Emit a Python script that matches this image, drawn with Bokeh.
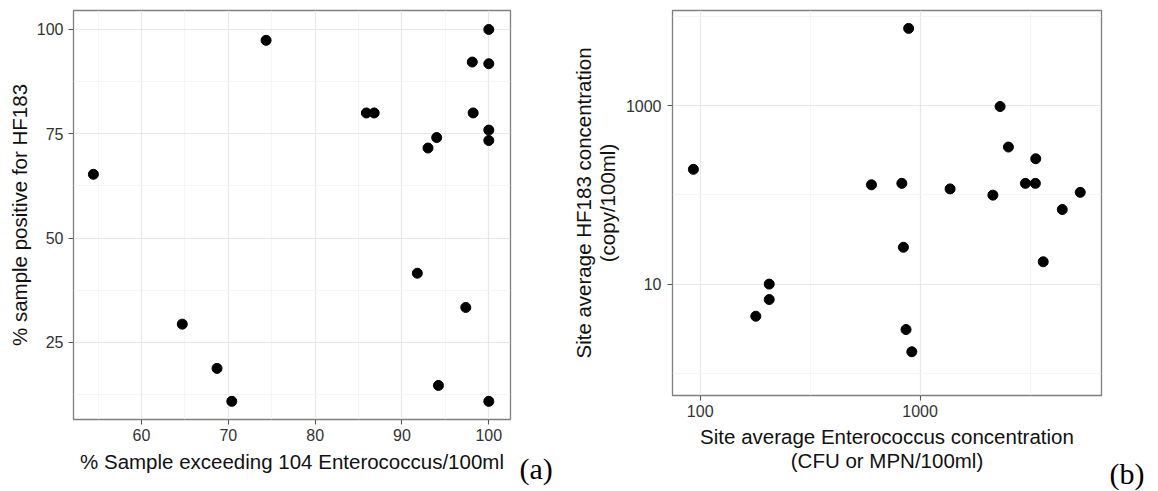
from bokeh.plotting import figure
from bokeh.models import Range1d, FixedTicker, Label, PrintfTickFormatter
from bokeh.embed import file_html
from bokeh.resources import INLINE

# ---- panel (a) data ----
pct_exceed = [74.35, 100, 98.1, 100, 85.9, 86.8, 98.2, 100, 100, 94.0, 93.0,
              54.46, 91.77, 97.35, 64.7, 68.7, 70.4, 94.2, 100]
pct_pos_hf183 = [97.4, 100, 92.2, 91.8, 80.0, 80.0, 80.0, 75.9, 73.4, 74.1, 71.6,
                 65.3, 41.6, 33.4, 29.4, 18.8, 10.9, 14.7, 10.9]
a_xticks = [60, 70, 80, 90, 100]
a_xminor = [55, 65, 75, 85, 95]
a_yticks = [25, 50, 75, 100]
a_yminor = [12.5, 37.5, 62.5, 87.5]

# ---- panel (b) data ----
avg_entero = [887, 2311, 2522, 3357, 93.1, 601, 826, 1369, 2143, 3013, 3344,
              5350, 4432, 840, 3631, 206, 206, 179, 863, 917]
avg_hf183 = [7400, 983, 345, 255, 194, 130, 135, 117, 99.6, 135, 135,
             107, 68.7, 25.9, 17.8, 10, 6.71, 4.36, 3.09, 1.74]
b_xticks = [100, 1000]
b_xminor = [31.62, 316.2, 3162]
b_yticks = [10, 1000]
b_yminor = [1, 100, 10000]

panel_tags = ["(a)", "(b)"]

FONT = "Liberation Sans"
TICK_COLOR = "#333333"
TITLE_COLOR = "#111111"


def style(p):
    p.outline_line_color = "#7f7f7f"
    p.outline_line_width = 1.3
    p.background_fill_color = "white"
    p.border_fill_color = "white"
    for ax in (p.xaxis, p.yaxis):
        ax.axis_line_color = None
        ax.major_tick_line_color = "#555555"
        ax.major_tick_line_width = 1.1
        ax.major_tick_out = 5
        ax.major_tick_in = 0
        ax.minor_tick_line_color = None
        ax.major_label_text_font = FONT
        ax.major_label_text_font_size = "16px"
        ax.major_label_text_color = TICK_COLOR
        ax.axis_label_text_font = FONT
        ax.axis_label_text_font_size = "20.5px"
        ax.axis_label_text_font_style = "normal"
        ax.axis_label_text_color = TITLE_COLOR
    p.xaxis.major_label_standoff = 4
    p.yaxis.major_label_standoff = 5
    for g in (p.xgrid, p.ygrid):
        g.grid_line_color = "#e8e8e8"
        g.grid_line_width = 1.2
        g.minor_grid_line_color = "#f3f3f3"
        g.minor_grid_line_width = 0.8


def place(left, top):
    return {"position": "absolute", "left": f"{left}px", "top": f"{top}px"}


# ---- figure (a) ----
pa = figure(width=568, height=491, output_backend="svg", toolbar_location=None,
            x_range=Range1d(52.17, 102.5), y_range=Range1d(6.55, 104.55),
            min_border_left=73, min_border_right=58, min_border_top=10, min_border_bottom=72,
            styles=place(0, 0))
style(pa)
ta_x = FixedTicker(ticks=a_xticks, minor_ticks=a_xminor)
ta_y = FixedTicker(ticks=a_yticks, minor_ticks=a_yminor)
pa.xaxis.ticker = ta_x
pa.xgrid.ticker = ta_x
pa.yaxis.ticker = ta_y
pa.ygrid.ticker = ta_y
pa.xaxis.axis_label = "% Sample exceeding 104 Enterococcus/100ml"
pa.yaxis.axis_label = "% sample positive for HF183"
pa.xaxis.axis_label_standoff = 6
pa.yaxis.axis_label_standoff = 3
pa.scatter(pct_exceed, pct_pos_hf183, size=10, color="black")

# ---- figure (b) ----
pb = figure(width=590, height=491, output_backend="svg", toolbar_location=None,
            x_axis_type="log", y_axis_type="log",
            x_range=Range1d(10 ** 1.874, 10 ** 3.825), y_range=Range1d(10 ** -0.25, 10 ** 4.07),
            min_border_left=101, min_border_right=57, min_border_top=10, min_border_bottom=96,
            styles=place(568, 0))
style(pb)
tb_x = FixedTicker(ticks=b_xticks, minor_ticks=b_xminor)
tb_y = FixedTicker(ticks=b_yticks, minor_ticks=b_yminor)
pb.xaxis.ticker = tb_x
pb.xgrid.ticker = tb_x
pb.yaxis.ticker = tb_y
pb.ygrid.ticker = tb_y
pb.xaxis.formatter = PrintfTickFormatter(format="%d")
pb.yaxis.formatter = PrintfTickFormatter(format="%d")
pb.yaxis.major_label_standoff = 6
pb.xaxis.axis_label = "Site average Enterococcus concentration\n(CFU or MPN/100ml)"
pb.yaxis.axis_label = "Site average HF183 concentration\n(copy/100ml)"
pb.xaxis.axis_label_text_line_height = 1.06
pb.yaxis.axis_label_text_line_height = 1.06
pb.xaxis.axis_label_standoff = 5
pb.yaxis.axis_label_standoff = 4
pb.scatter(avg_entero, avg_hf183, size=10, color="black")


# ---- panel tags "(a)" / "(b)" ----
def tag_fig(text, left, top):
    f = figure(width=44, height=36, output_backend="svg", toolbar_location=None,
               x_axis_location=None, y_axis_location=None, min_border=0,
               outline_line_color=None, x_range=Range1d(0, 1), y_range=Range1d(0, 1),
               styles=place(left, top))
    f.grid.visible = False
    f.background_fill_alpha = 0
    f.border_fill_alpha = 0
    f.add_layout(Label(x=0, y=18, x_units="screen", y_units="screen", text=text,
                       text_font="Liberation Serif", text_font_size="30px",
                       text_baseline="middle", text_align="left", text_color="black"))
    return f


la = tag_fig(panel_tags[0], 519, 450)
lb = tag_fig(panel_tags[1], 1109, 455)

open("out.html", "w").write(file_html([pa, pb, la, lb], INLINE))
